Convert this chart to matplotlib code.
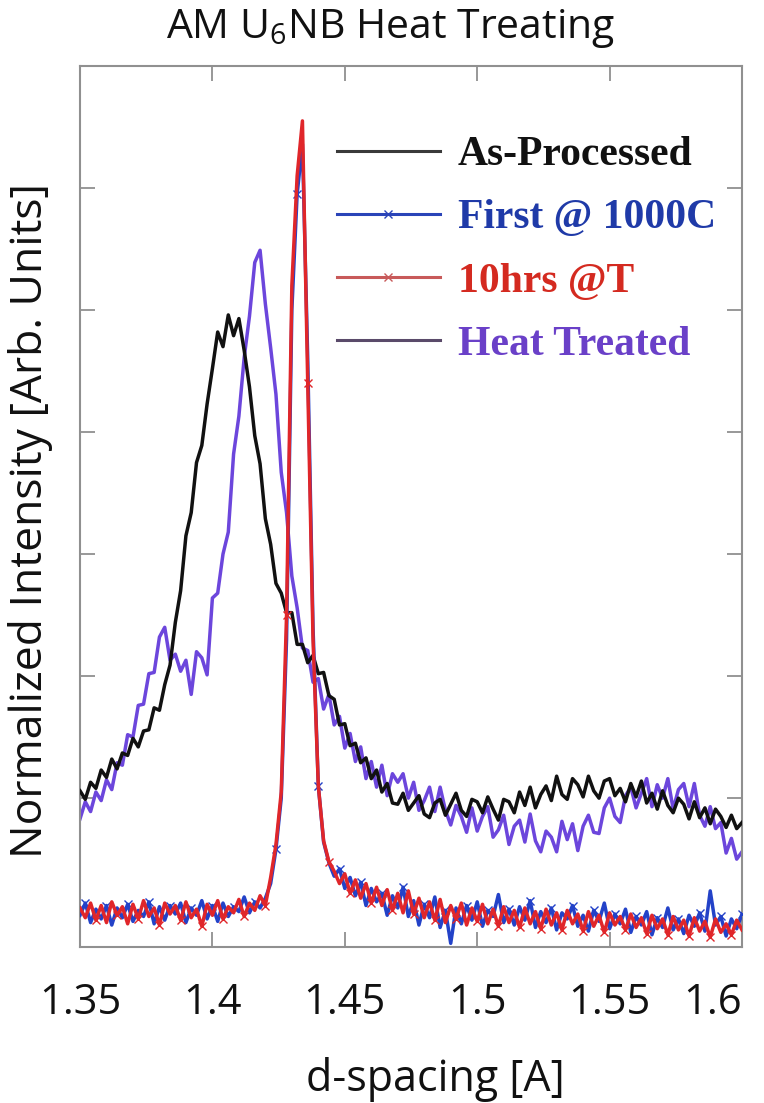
import numpy as np
import matplotlib
matplotlib.use("Agg")
import matplotlib.pyplot as plt
from matplotlib.lines import Line2D

# ---------------- data ----------------
d_spacing = np.linspace(1.35, 1.60, 126)   # sample positions, step 0.002

as_processed = [106, 99, 113, 108, 123, 117, 132, 124, 137, 135,
                149, 142, 155, 156, 174, 172, 193, 209, 244, 270,
                315, 334, 375, 389, 423, 452, 482, 470, 496, 479,
                493, 467, 437, 397, 374, 329, 308, 276, 268, 252,
                252, 226, 226, 211, 217, 202, 203, 184, 181, 160,
                161, 143, 145, 129, 133, 116, 123, 105, 112, 96,
                95, 104, 90, 96, 102, 87, 84, 96, 99, 86,
                95, 104, 90, 85, 99, 97, 88, 101, 91, 82,
                99, 97, 88, 105, 94, 109, 92, 103, 110, 98,
                118, 103, 99, 116, 111, 101, 118, 106, 100, 114,
                116, 102, 108, 97, 112, 101, 114, 96, 104, 91,
                106, 94, 88, 100, 95, 83, 97, 84, 92, 79,
                91, 85, 76, 86, 75, 80]

first_1000c = [4, 14, -2, 9, 1, 12, -4, 10, 2, 13,
               -1, 8, 3, 15, -3, 11, 0, 12, 5, 14,
               -2, 10, 4, 16, 1, 12, -1, 14, 3, 11,
               7, 19, 6, 15, 10, 18, 30, 58, 100, 230,
               500, 595, 636, 460, 240, 110, 64, 47, 36, 42,
               26, 35, 20, 31, 12, 26, 15, 22, 4, 20,
               10, 27, 3, 16, -4, 13, 2, 19, -6, 8,
               -19, 10, -3, 12, 0, 15, -5, 8, 3, 21,
               -2, 9, -4, 11, 0, 16, -6, 7, -2, 10,
               -8, 6, 1, 12, -5, 4, -9, 8, -1, 14,
               -7, 5, -3, 9, -10, 3, -4, 7, -12, 2,
               -6, 10, -8, 1, -11, 4, -5, 6, -9, 24,
               -4, 3, -13, 1, -7, 5]

ten_hrs = [10, 2, 14, 0, 12, -2, 15, 4, 11, -3,
           13, 1, 16, 3, 10, -4, 14, 5, 12, 0,
           15, 2, 9, -5, 13, 4, 16, 1, 11, 6,
           17, 3, 14, 8, 20, 12, 35, 62, 105, 250,
           520, 610, 655, 440, 230, 110, 65, 48, 40, 30,
           38, 22, 33, 18, 30, 14, 27, 12, 25, 8,
           22, 6, 24, 5, 18, 2, 15, 0, 17, -2,
           12, 1, 14, -4, 10, -1, 13, -3, 9, -5,
           11, -2, 8, -6, 10, -3, 7, -7, 9, -4,
           6, -8, 8, -3, 5, -9, 7, -5, 4, -10,
           6, -4, 3, -8, 5, -6, 2, -11, 4, -7,
           1, -12, 3, -8, 0, -13, 2, -9, -1, -14,
           1, -10, -3, -12, 0, -8]

heat_treated = [83, 97, 89, 105, 98, 115, 107, 129, 127, 152,
                150, 176, 177, 202, 203, 232, 240, 213, 218, 204,
                213, 185, 220, 215, 201, 264, 268, 300, 318, 382,
                413, 461, 495, 539, 549, 505, 469, 431, 367, 334,
                282, 256, 223, 221, 195, 198, 173, 185, 160, 167,
                141, 153, 130, 142, 116, 130, 109, 127, 102, 120,
                113, 120, 100, 113, 90, 98, 109, 89, 109, 90,
                78, 94, 85, 72, 92, 73, 85, 93, 68, 74,
                86, 62, 77, 82, 64, 87, 65, 56, 73, 68,
                56, 81, 66, 79, 57, 77, 86, 72, 71, 92,
                100, 85, 80, 102, 109, 92, 104, 116, 93, 111,
                100, 116, 91, 107, 112, 93, 112, 86, 77, 93,
                75, 80, 55, 67, 50, 56]

series_labels = ["As-Processed", "First @ 1000C", "10hrs @T", "Heat Treated"]
x_ticks = [1.35, 1.40, 1.45, 1.50, 1.55, 1.60]
x_tick_labels = ["1.35", "1.4", "1.45", "1.5", "1.55", "1.6"]
y_ticks = [100, 200, 300, 400, 500, 600, 700]

# ---------------- style ----------------
plt.rcParams['font.family'] = ['Open Sans', 'DejaVu Sans']
plt.rcParams['mathtext.fontset'] = 'custom'
plt.rcParams['mathtext.rm'] = 'Open Sans'
plt.rcParams['mathtext.it'] = 'Open Sans'

c_black = '#111111'
c_blue = '#2342c8'
c_red = '#e0262a'
c_purple = '#6c46dc'
frame_c = '#909090'

fig = plt.figure(figsize=(7.64, 11.03), dpi=100)
ax = fig.add_axes([80/764, 1-947/1103, 662/764, 881/1103])

lw = 2.5
ax.plot(d_spacing, heat_treated, color=c_purple, lw=lw, zorder=2)
ax.plot(d_spacing, as_processed, color=c_black, lw=lw, zorder=3)
ax.plot(d_spacing, first_1000c, color=c_blue, lw=lw, zorder=4,
        marker='x', markersize=6, mew=1.0, markevery=(1, 4))
ax.plot(d_spacing, ten_hrs, color=c_red, lw=lw, zorder=5,
        marker='x', markersize=6, mew=1.0, markevery=(3, 4))

ax.set_xlim(1.35, 1.60)
ax.set_ylim(-22, 700)
ax.set_xticks(x_ticks)
ax.set_xticklabels(x_tick_labels)
ax.set_yticks(y_ticks)
ax.tick_params(axis='both', direction='in', top=True, right=True,
               length=11, width=1.3, color=frame_c)
ax.tick_params(axis='y', labelleft=False)
ax.tick_params(axis='x', labelsize=30, pad=25, labelcolor='#111111')
ax.get_xticklabels()[-1].set_horizontalalignment('right')
for s in ax.spines.values():
    s.set_color(frame_c)
    s.set_linewidth(1.5)

# legend
handles = [
    Line2D([], [], color='#3a3a3a', lw=2.2),
    Line2D([], [], color='#2a44b8', lw=2.2, marker='x', markersize=6, mew=1.0),
    Line2D([], [], color='#c85a5a', lw=2.2, marker='x', markersize=6, mew=1.0),
    Line2D([], [], color='#5a4a6a', lw=2.2),
]
leg = ax.legend(handles, series_labels, loc='upper left',
                bbox_to_anchor=((337-80)/662, (947-136)/881),
                frameon=False, borderpad=0, borderaxespad=0,
                handlelength=2.47, handletextpad=0.43, labelspacing=0.6,
                prop={'family': 'Liberation Serif', 'weight': 'bold', 'size': 30},
                labelcolor=['#111111', '#1f3aa8', '#d42a20', '#6a40c8'])

# texts
fig.text(391/764, 1-28/1103, r'AM U$_{\mathrm{6}}$NB Heat Treating',
         ha='center', va='center', fontsize=29.5, color='#111111')
fig.text(31/764, 1-520/1103, 'Normalized Intensity [Arb. Units]',
         ha='center', va='center', rotation=90, fontsize=32, color='#111111')
fig.text(435/764, 1-1080/1103, 'd-spacing [A]',
         ha='center', va='center', fontsize=31, color='#111111')

fig.savefig('out.png', dpi=100)
